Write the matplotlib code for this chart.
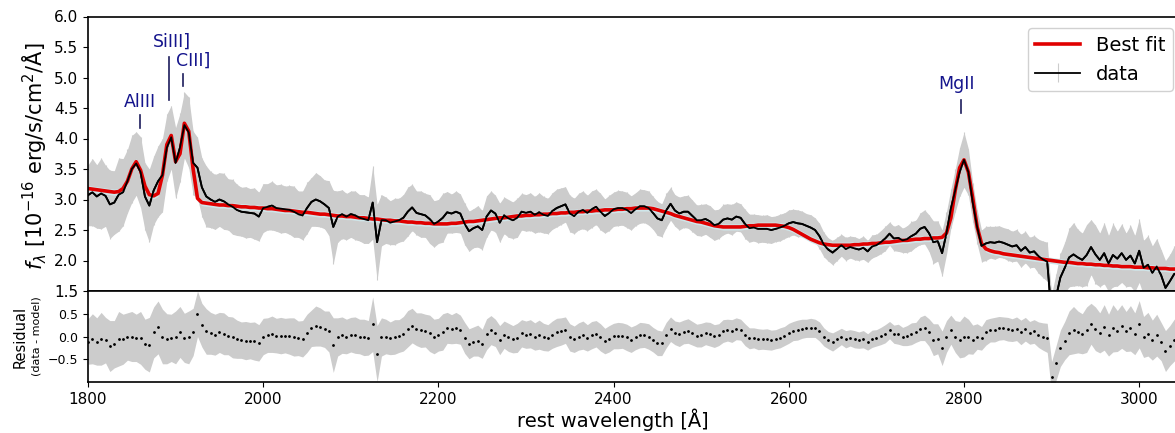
import numpy as np
import matplotlib
matplotlib.use("Agg")
import matplotlib.pyplot as plt

# ---------------- data ----------------
wl_start, wl_stop, wl_step = 1800, 3045, 5
wavelength = np.arange(wl_start, wl_stop + 1, wl_step)

flux = [
    3.07, 3.12, 3.05, 3.10, 3.06, 2.92, 2.95, 3.08, 3.12, 3.30,   # 1800-1845
    3.50, 3.59, 3.45, 3.05, 2.90, 3.15, 3.30, 3.40, 3.85, 4.02,   # 1850-1895
    3.60, 3.85, 4.22, 4.10, 3.60, 3.52, 3.20, 3.05, 3.00, 2.96,   # 1900-1945
    3.00, 2.97, 2.92, 2.88, 2.83, 2.80, 2.79, 2.78, 2.77, 2.72,   # 1950-1995
    2.86, 2.88, 2.90, 2.86, 2.85, 2.84, 2.83, 2.80, 2.76, 2.74,   # 2000-2045
    2.86, 2.96, 3.00, 2.97, 2.92, 2.86, 2.55, 2.72, 2.76, 2.72,   # 2050-2095
    2.76, 2.74, 2.70, 2.68, 2.66, 2.95, 2.30, 2.66, 2.66, 2.62,   # 2100-2145
    2.64, 2.66, 2.70, 2.80, 2.87, 2.78, 2.76, 2.74, 2.68, 2.60,   # 2150-2195
    2.64, 2.70, 2.79, 2.77, 2.80, 2.77, 2.60, 2.48, 2.53, 2.56,   # 2200-2245
    2.50, 2.72, 2.82, 2.77, 2.62, 2.74, 2.69, 2.66, 2.70, 2.80,   # 2250-2295
    2.78, 2.80, 2.75, 2.79, 2.75, 2.73, 2.81, 2.86, 2.89, 2.92,   # 2300-2345
    2.77, 2.73, 2.80, 2.83, 2.78, 2.84, 2.88, 2.80, 2.73, 2.78,   # 2350-2395
    2.84, 2.86, 2.86, 2.83, 2.78, 2.84, 2.89, 2.89, 2.86, 2.78,   # 2400-2445
    2.69, 2.66, 2.82, 2.93, 2.82, 2.77, 2.80, 2.80, 2.73, 2.66,   # 2450-2495
    2.66, 2.68, 2.64, 2.58, 2.60, 2.67, 2.69, 2.67, 2.72, 2.70,   # 2500-2545
    2.60, 2.53, 2.54, 2.52, 2.52, 2.52, 2.50, 2.52, 2.54, 2.57,   # 2550-2595
    2.61, 2.63, 2.61, 2.60, 2.57, 2.54, 2.50, 2.40, 2.26, 2.18,   # 2600-2645
    2.13, 2.19, 2.25, 2.19, 2.22, 2.20, 2.18, 2.21, 2.15, 2.23,   # 2650-2695
    2.25, 2.30, 2.36, 2.44, 2.36, 2.37, 2.33, 2.35, 2.40, 2.44,   # 2700-2745
    2.52, 2.55, 2.45, 2.30, 2.32, 2.12, 2.45, 2.85, 3.15, 3.45,   # 2750-2795
    3.65, 3.45, 2.95, 2.55, 2.24, 2.28, 2.30, 2.29, 2.31, 2.29,   # 2800-2845
    2.26, 2.23, 2.25, 2.16, 2.22, 2.13, 2.15, 2.07, 2.02, 1.98,   # 2850-2895
    1.10, 1.40, 1.72, 1.88, 2.05, 2.10, 2.05, 2.01, 2.09, 2.22,   # 2900-2945
    2.10, 2.01, 2.12, 1.95, 2.09, 2.03, 2.12, 2.01, 2.08, 1.95,   # 2950-2995
    2.16, 1.88, 1.93, 1.80, 1.90, 1.76, 1.55, 1.66, 1.78, 1.80,   # 3000-3045
]

flux_err = [
    0.50, 0.55, 0.52, 0.58, 0.50, 0.56, 0.52, 0.60, 0.55, 0.52,   # 1800-1845
    0.55, 0.52, 0.58, 0.55, 0.60, 0.56, 0.58, 0.60, 0.55, 0.52,   # 1850-1895
    0.58, 0.56, 0.54, 0.58, 0.52, 0.50, 0.48, 0.50, 0.46, 0.45,   # 1900-1945
    0.44, 0.46, 0.42, 0.45, 0.42, 0.40, 0.42, 0.40, 0.42, 0.40,   # 1950-1995
    0.40, 0.38, 0.40, 0.38, 0.40, 0.38, 0.40, 0.42, 0.38, 0.40,   # 2000-2045
    0.42, 0.40, 0.44, 0.42, 0.40, 0.45, 0.60, 0.42, 0.40, 0.38,   # 2050-2095
    0.38, 0.40, 0.38, 0.40, 0.38, 0.60, 0.62, 0.42, 0.38, 0.36,   # 2100-2145
    0.38, 0.36, 0.38, 0.40, 0.38, 0.36, 0.38, 0.36, 0.40, 0.38,   # 2150-2195
    0.36, 0.40, 0.34, 0.32, 0.34, 0.32, 0.34, 0.33, 0.32, 0.34,   # 2200-2245
    0.32, 0.34, 0.32, 0.30, 0.32, 0.30, 0.31, 0.30, 0.32, 0.30,   # 2250-2295
    0.30, 0.31, 0.30, 0.32, 0.30, 0.29, 0.30, 0.31, 0.30, 0.29,   # 2300-2345
    0.30, 0.29, 0.30, 0.31, 0.29, 0.30, 0.29, 0.30, 0.28, 0.29,   # 2350-2395
    0.28, 0.29, 0.28, 0.29, 0.28, 0.27, 0.28, 0.27, 0.28, 0.27,   # 2400-2445
    0.28, 0.27, 0.28, 0.27, 0.26, 0.27, 0.26, 0.27, 0.26, 0.25,   # 2450-2495
    0.26, 0.25, 0.26, 0.25, 0.24, 0.25, 0.24, 0.25, 0.24, 0.23,   # 2500-2545
    0.24, 0.23, 0.22, 0.23, 0.22, 0.23, 0.22, 0.21, 0.22, 0.21,   # 2550-2595
    0.22, 0.21, 0.22, 0.21, 0.20, 0.21, 0.20, 0.21, 0.20, 0.19,   # 2600-2645
    0.20, 0.19, 0.18, 0.19, 0.18, 0.19, 0.18, 0.19, 0.18, 0.19,   # 2650-2695
    0.18, 0.19, 0.20, 0.19, 0.20, 0.22, 0.20, 0.22, 0.24, 0.22,   # 2700-2745
    0.26, 0.28, 0.30, 0.35, 0.33, 0.38, 0.35, 0.32, 0.35, 0.40,   # 2750-2795
    0.45, 0.38, 0.32, 0.28, 0.26, 0.28, 0.26, 0.27, 0.26, 0.25,   # 2800-2845
    0.26, 0.25, 0.26, 0.27, 0.26, 0.25, 0.26, 0.28, 0.30, 0.32,   # 2850-2895
    0.35, 0.38, 0.40, 0.42, 0.48, 0.52, 0.46, 0.44, 0.50, 0.45,   # 2900-2945
    0.48, 0.44, 0.50, 0.46, 0.52, 0.45, 0.48, 0.44, 0.50, 0.46,   # 2950-2995
    0.52, 0.45, 0.48, 0.44, 0.46, 0.42, 0.45, 0.44, 0.46, 0.45,   # 3000-3045
]

model = [
    3.18, 3.17, 3.16, 3.15, 3.14, 3.13, 3.12, 3.13, 3.18, 3.30,   # 1800-1845
    3.50, 3.62, 3.48, 3.22, 3.08, 3.06, 3.10, 3.40, 3.90, 4.05,   # 1850-1895
    3.62, 3.75, 4.25, 4.12, 3.50, 3.02, 2.95, 2.94, 2.93, 2.92,   # 1900-1945
    2.91, 2.91, 2.90, 2.90, 2.89, 2.88, 2.88, 2.87, 2.87, 2.86,   # 1950-1995
    2.86, 2.85, 2.85, 2.84, 2.83, 2.82, 2.82, 2.81, 2.80, 2.79,   # 2000-2045
    2.79, 2.78, 2.77, 2.76, 2.76, 2.75, 2.74, 2.73, 2.73, 2.72,   # 2050-2095
    2.72, 2.71, 2.70, 2.70, 2.69, 2.68, 2.68, 2.67, 2.66, 2.66,   # 2100-2145
    2.65, 2.65, 2.64, 2.63, 2.63, 2.62, 2.62, 2.61, 2.61, 2.60,   # 2150-2195
    2.60, 2.60, 2.60, 2.61, 2.61, 2.62, 2.63, 2.64, 2.64, 2.65,   # 2200-2245
    2.66, 2.67, 2.68, 2.69, 2.70, 2.70, 2.71, 2.72, 2.73, 2.73,   # 2250-2295
    2.74, 2.74, 2.75, 2.75, 2.76, 2.76, 2.77, 2.77, 2.78, 2.78,   # 2300-2345
    2.79, 2.79, 2.80, 2.80, 2.81, 2.81, 2.82, 2.82, 2.83, 2.83,   # 2350-2395
    2.83, 2.84, 2.84, 2.85, 2.85, 2.86, 2.86, 2.86, 2.86, 2.85,   # 2400-2445
    2.83, 2.81, 2.79, 2.77, 2.74, 2.72, 2.70, 2.68, 2.66, 2.64,   # 2450-2495
    2.63, 2.61, 2.59, 2.57, 2.56, 2.55, 2.55, 2.55, 2.55, 2.55,   # 2500-2545
    2.56, 2.57, 2.57, 2.58, 2.58, 2.58, 2.58, 2.58, 2.57, 2.56,   # 2550-2595
    2.54, 2.51, 2.47, 2.43, 2.39, 2.35, 2.32, 2.29, 2.27, 2.26,   # 2600-2645
    2.25, 2.25, 2.25, 2.25, 2.25, 2.26, 2.26, 2.27, 2.27, 2.28,   # 2650-2695
    2.28, 2.29, 2.30, 2.30, 2.31, 2.32, 2.33, 2.33, 2.34, 2.35,   # 2700-2745
    2.35, 2.36, 2.36, 2.37, 2.37, 2.38, 2.45, 2.70, 3.15, 3.52,   # 2750-2795
    3.65, 3.45, 3.02, 2.55, 2.28, 2.19, 2.16, 2.14, 2.13, 2.11,   # 2800-2845
    2.10, 2.09, 2.08, 2.07, 2.06, 2.05, 2.04, 2.03, 2.02, 2.01,   # 2850-2895
    2.00, 1.99, 1.98, 1.97, 1.97, 1.96, 1.95, 1.95, 1.94, 1.94,   # 2900-2945
    1.93, 1.93, 1.92, 1.92, 1.91, 1.91, 1.90, 1.90, 1.90, 1.89,   # 2950-2995
    1.89, 1.89, 1.88, 1.88, 1.87, 1.87, 1.87, 1.86, 1.86, 1.86,   # 3000-3045
]

line_names = ["AlIII", "SiIII]", "CIII]", "MgII"]
line_wave = [1859, 1892, 1908, 2797]
line_text_wave = [1859, 1896, 1920, 2791]
line_text_y = [4.60, 5.59, 5.27, 4.89]
line_tick_lo = [4.17, 4.63, 4.86, 4.42]
line_tick_hi = [4.39, 5.34, 5.06, 4.63]

# ---------------- figure ----------------
flux = np.array(flux)
flux_err = np.array(flux_err)
model = np.array(model)
resid = flux - model

W, H = 1175, 433
fig = plt.figure(figsize=(W / 100, H / 100), dpi=100)
plt.rcParams['axes.linewidth'] = 1.2

ax_l, ax_w = 88 / W, 1095 / W
ax1 = fig.add_axes([ax_l, 1 - 291 / H, ax_w, (291 - 16.5) / H])
ax2 = fig.add_axes([ax_l, 1 - 382 / H, ax_w, (382 - 291) / H], sharex=ax1)

band_c = '#cccccc'
ax1.fill_between(wavelength, flux - flux_err, flux + flux_err, color=band_c,
                 lw=0, zorder=0.5)
eb = ax1.errorbar(wavelength, flux, yerr=flux_err, fmt='-', color='k', lw=1.3,
                  ecolor=band_c, elinewidth=0.8, zorder=1, label='data')
ax1.fill_between(wavelength, model - 0.05, model + 0.05, color='#cfe6ea',
                 lw=0, zorder=1.5)
fit_line, = ax1.plot(wavelength, model, color='#e00000', lw=2.6, zorder=2,
                     label='Best fit')
ax1.plot(wavelength, flux, color='k', lw=1.3, zorder=3)

for name, lw_, tx, ty, lo, hi in zip(line_names, line_wave, line_text_wave,
                                      line_text_y, line_tick_lo, line_tick_hi):
    ax1.plot([lw_, lw_], [lo, hi], color='#1c1c5c', lw=1.2, zorder=4)
    ax1.text(tx, ty, name, color='#14148c', fontsize=12.5, ha='center',
             va='center', zorder=4)

ax1.set_xlim(1800, 3050)
ax1.set_ylim(1.5, 6.0)
ax1.set_yticks(np.arange(1.5, 6.01, 0.5))
ax1.tick_params(axis='y', labelsize=11)
ax1.tick_params(axis='x', labelbottom=False)
ax1.set_ylabel(r'$f_\lambda$ [$10^{-16}$ erg/s/cm$^2$/Å]', fontsize=15)
ax1.yaxis.set_label_coords(-0.036, 0.49)

leg = ax1.legend(handles=[fit_line, eb], labels=['Best fit', 'data'],
                 loc='upper right', bbox_to_anchor=(1173 / W, 1 - 28 / H),
                 bbox_transform=fig.transFigure, borderaxespad=0,
                 fontsize=14, handlelength=2.3, framealpha=0.9)

# residual panel
ax2.fill_between(wavelength, resid - flux_err, resid + flux_err, color=band_c,
                 lw=0, zorder=0.5)
ax2.plot(wavelength, resid, 'k.', ms=2, zorder=2)
ax2.set_ylim(-1.0, 1.0)
ax2.set_yticks([-0.5, 0.0, 0.5])
ax2.tick_params(axis='y', labelsize=9)
ax2.tick_params(axis='x', labelsize=11)
ax2.set_xticks([1800, 2000, 2200, 2400, 2600, 2800, 3000])
ax2.text(-0.062, 0.5, 'Residual', rotation=90, fontsize=10.5, ha='center',
         va='center', transform=ax2.transAxes)
ax2.text(-0.047, 0.5, '(data - model)', rotation=90, fontsize=8, ha='center',
         va='center', transform=ax2.transAxes)
ax2.set_xlabel('rest wavelength [Å]', fontsize=14)
ax2.xaxis.set_label_coords((613 - 88) / 1095, -0.29)

fig.savefig('out.png', dpi=100)
